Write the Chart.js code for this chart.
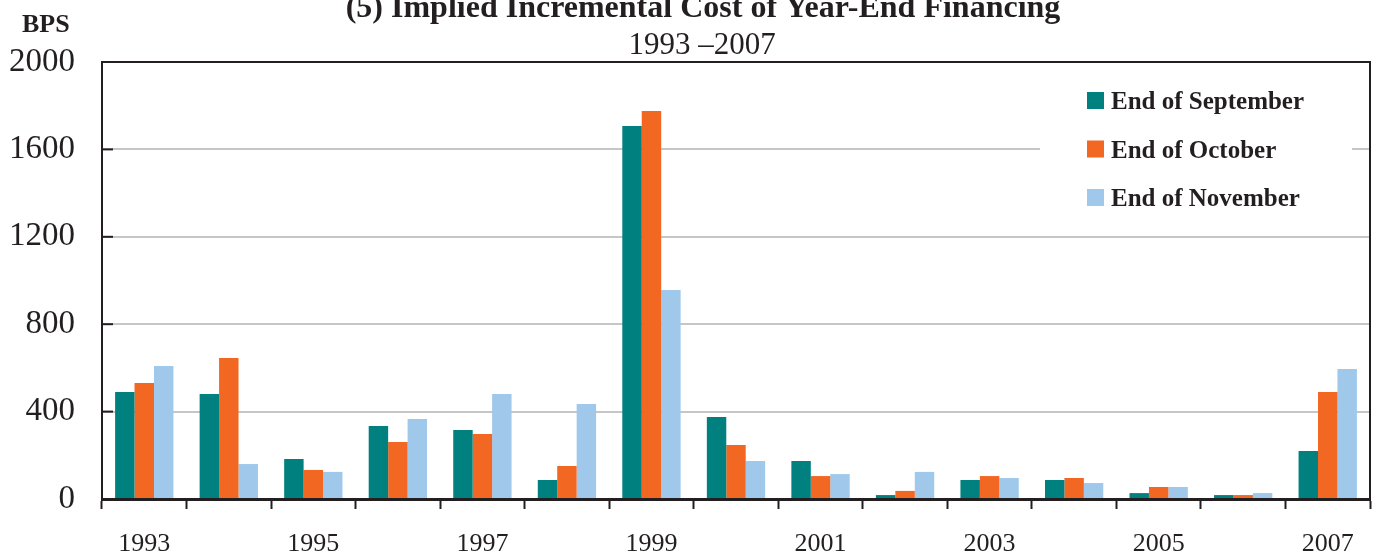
<!DOCTYPE html>
<html>
<head>
<meta charset="utf-8">
<script src="https://cdn.jsdelivr.net/npm/chart.js@4"></script>
<style>
    html, body { margin: 0; padding: 0; background: #fff; }
    .box { width: 1375px; height: 558px; position: relative; }
</style>
</head>
<body>
<div class="box"><canvas id="graph"></canvas></div>
<script>
"use strict";

const years = ["1993", "1994", "1995", "1996", "1997", "1998", "1999", "2000",
    "2001", "2002", "2003", "2004", "2005", "2006", "2007"];
const endSeptember = [490, 480, 183, 334, 316, 87, 1707, 375, 174, 18, 87, 87, 27, 18, 220];
const endOctober = [531, 645, 133, 261, 297, 151, 1776, 247, 105, 37, 105, 96, 55, 18, 490];
const endNovember = [609, 160, 124, 366, 480, 435, 957, 174, 114, 124, 96, 73, 55, 27, 595];
const seriesNames = ["End of September", "End of October", "End of November"];
const yTickValues = [0, 400, 800, 1200, 1600, 2000];

const serif = '"Liberation Serif", "Times New Roman", serif';
const ink = "#231f20";

// titles, frame, inward y ticks and the legend are drawn by hand
const extras = {
    id: "extras",
    beforeDatasetsDraw(chart) {
        const ctx = chart.ctx;
        const a = chart.chartArea;
        const y = chart.scales.y;
        ctx.save();
        ctx.strokeStyle = ink;
        ctx.lineWidth = 2;
        ctx.beginPath();
        ctx.moveTo(a.left - 1, a.top);
        ctx.lineTo(a.right, a.top);
        ctx.lineTo(a.right, a.bottom);
        ctx.stroke();
        yTickValues.forEach(v => {
            const py = y.getPixelForValue(v);
            ctx.beginPath();
            ctx.moveTo(a.left, py);
            ctx.lineTo(a.left + 11, py);
            ctx.stroke();
        });
        ctx.restore();
    },
    afterDraw(chart) {
        const ctx = chart.ctx;
        ctx.save();
        ctx.fillStyle = ink;
        ctx.textAlign = "center";
        ctx.textBaseline = "alphabetic";
        ctx.font = `bold 32px ${serif}`;
        ctx.fillText("(5) Implied Incremental Cost of Year-End Financing", 703, 17);
        ctx.font = `31px ${serif}`;
        ctx.fillText("1993 \u20132007", 702, 54);
        ctx.textAlign = "left";
        ctx.font = `bold 26px ${serif}`;
        ctx.fillText("BPS", 22, 32);

        // legend
        ctx.fillStyle = "#fff";
        ctx.fillRect(1040, 76, 312, 140);
        ctx.font = `bold 25px ${serif}`;
        chart.data.datasets.forEach((ds, i) => {
            const top = 92 + i * 48.5;
            ctx.fillStyle = ds.backgroundColor;
            ctx.fillRect(1087, top, 17, 17);
            ctx.fillStyle = ink;
            ctx.fillText(ds.label, 1111, top + 17);
        });
        ctx.restore();
    }
};

new Chart(document.querySelector("#graph"), {
    type: "bar",
    data: {
        labels: years,
        datasets: [
            { label: seriesNames[0], data: endSeptember, backgroundColor: "#00807f" },
            { label: seriesNames[1], data: endOctober, backgroundColor: "#f26722" },
            { label: seriesNames[2], data: endNovember, backgroundColor: "#9fc8ea" }
        ]
    },
    options: {
        responsive: true,
        maintainAspectRatio: false,
        animation: false,
        layout: { padding: { left: 0, top: 62, right: 5, bottom: 0 } },
        datasets: {
            bar: { categoryPercentage: 0.69, barPercentage: 1.0 }
        },
        plugins: {
            legend: { display: false },
            tooltip: { enabled: false }
        },
        scales: {
            x: {
                afterFit(scale) { scale.height = 59; },
                grid: {
                    offset: true,
                    drawOnChartArea: false,
                    drawTicks: true,
                    tickLength: 10,
                    tickColor: ink,
                    tickWidth: 2
                },
                border: { color: ink, width: 3 },
                ticks: {
                    autoSkip: false,
                    maxRotation: 0,
                    padding: 20,
                    color: ink,
                    font: { family: serif, size: 26 },
                    callback: (val, i) => (i % 2 === 0 ? years[i] : "")
                }
            },
            y: {
                min: 0,
                max: 2000,
                afterFit(scale) { scale.width = 102; },
                afterBuildTicks(scale) { scale.ticks = yTickValues.map(v => ({ value: v })); },
                grid: {
                    drawTicks: false,
                    color: ctx => (ctx.tick && (ctx.tick.value === 0 || ctx.tick.value === 2000) ? "rgba(0,0,0,0)" : "#c6c6c6"),
                    lineWidth: 2
                },
                border: { color: ink, width: 2 },
                ticks: {
                    padding: 27,
                    color: ink,
                    font: { family: serif, size: 33 },
                    callback: v => String(v)
                }
            }
        }
    },
    plugins: [extras]
});
</script>
</body>
</html>
